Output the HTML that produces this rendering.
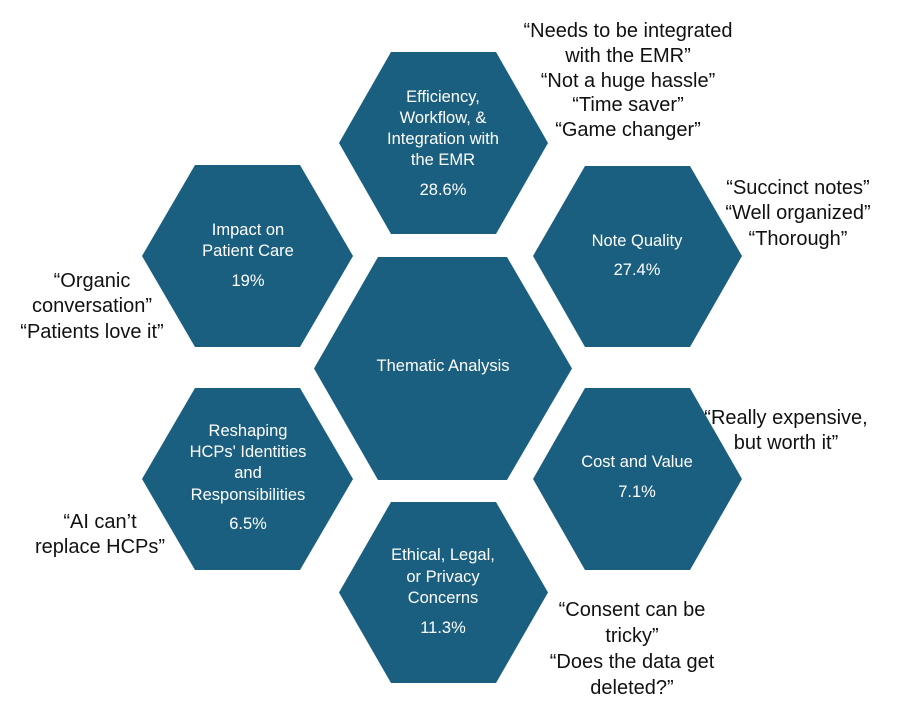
<!DOCTYPE html>
<html><head><meta charset="utf-8"><style>
html,body{margin:0;padding:0;background:#fff;}
svg{display:block;}
.w{fill:#fff;font-family:"Liberation Sans",sans-serif;font-size:16.5px;text-anchor:middle;}
.q{fill:#111;font-family:"Liberation Sans",sans-serif;font-size:20px;text-anchor:middle;}
</style></head><body>
<svg width="919" height="716" viewBox="0 0 919 716" xmlns="http://www.w3.org/2000/svg">
<g fill="#1b5f80">
<polygon points="339,143 391,52 496,52 548,143 496,234 391,234"/>
<polygon points="142,256 195,165 300,165 353,256 300,347 195,347"/>
<polygon points="533,256 585,166 690,166 742,256 690,347 585,347"/>
<polygon points="314,368.5 378,257 507,257 572,368.5 507,480 378,480"/>
<polygon points="142,479 195,388 300,388 353,479 300,570 195,570"/>
<polygon points="533,479 585,388 690,388 742,479 690,570 585,570"/>
<polygon points="339,592.5 391,502 496,502 548,592.5 496,683 391,683"/>
</g>
<g class="w">
<text x="443" y="102">Efficiency,</text>
<text x="443" y="123">Workflow, &amp;</text>
<text x="443" y="144">Integration with</text>
<text x="443" y="165">the EMR</text>
<text x="443" y="195">28.6%</text>
<text x="248" y="235">Impact on</text>
<text x="248" y="256">Patient Care</text>
<text x="248" y="286">19%</text>
<text x="637" y="246">Note Quality</text>
<text x="637" y="275">27.4%</text>
<text x="443" y="371">Thematic Analysis</text>
<text x="248" y="436">Reshaping</text>
<text x="248" y="457">HCPs' Identities</text>
<text x="248" y="478">and</text>
<text x="248" y="500">Responsibilities</text>
<text x="248" y="529">6.5%</text>
<text x="637" y="467">Cost and Value</text>
<text x="637" y="497">7.1%</text>
<text x="443" y="560">Ethical, Legal,</text>
<text x="443" y="582">or Privacy</text>
<text x="443" y="603">Concerns</text>
<text x="443" y="633">11.3%</text>
</g>
<g class="q">
<text x="628" y="37">“Needs to be integrated</text>
<text x="628" y="62">with the EMR”</text>
<text x="628" y="87">“Not a huge hassle”</text>
<text x="628" y="111">“Time saver”</text>
<text x="628" y="136">“Game changer”</text>
<text x="798" y="194">“Succinct notes”</text>
<text x="798" y="219">“Well organized”</text>
<text x="798" y="245">“Thorough”</text>
<text x="92" y="287">“Organic</text>
<text x="92" y="312">conversation”</text>
<text x="92" y="338">“Patients love it”</text>
<text x="786" y="424">“Really expensive,</text>
<text x="786" y="449">but worth it”</text>
<text x="100" y="528">“AI can’t</text>
<text x="100" y="553">replace HCPs”</text>
<text x="632" y="616">“Consent can be</text>
<text x="632" y="642">tricky”</text>
<text x="632" y="668">“Does the data get</text>
<text x="632" y="694">deleted?”</text>
</g>
</svg>
</body></html>
